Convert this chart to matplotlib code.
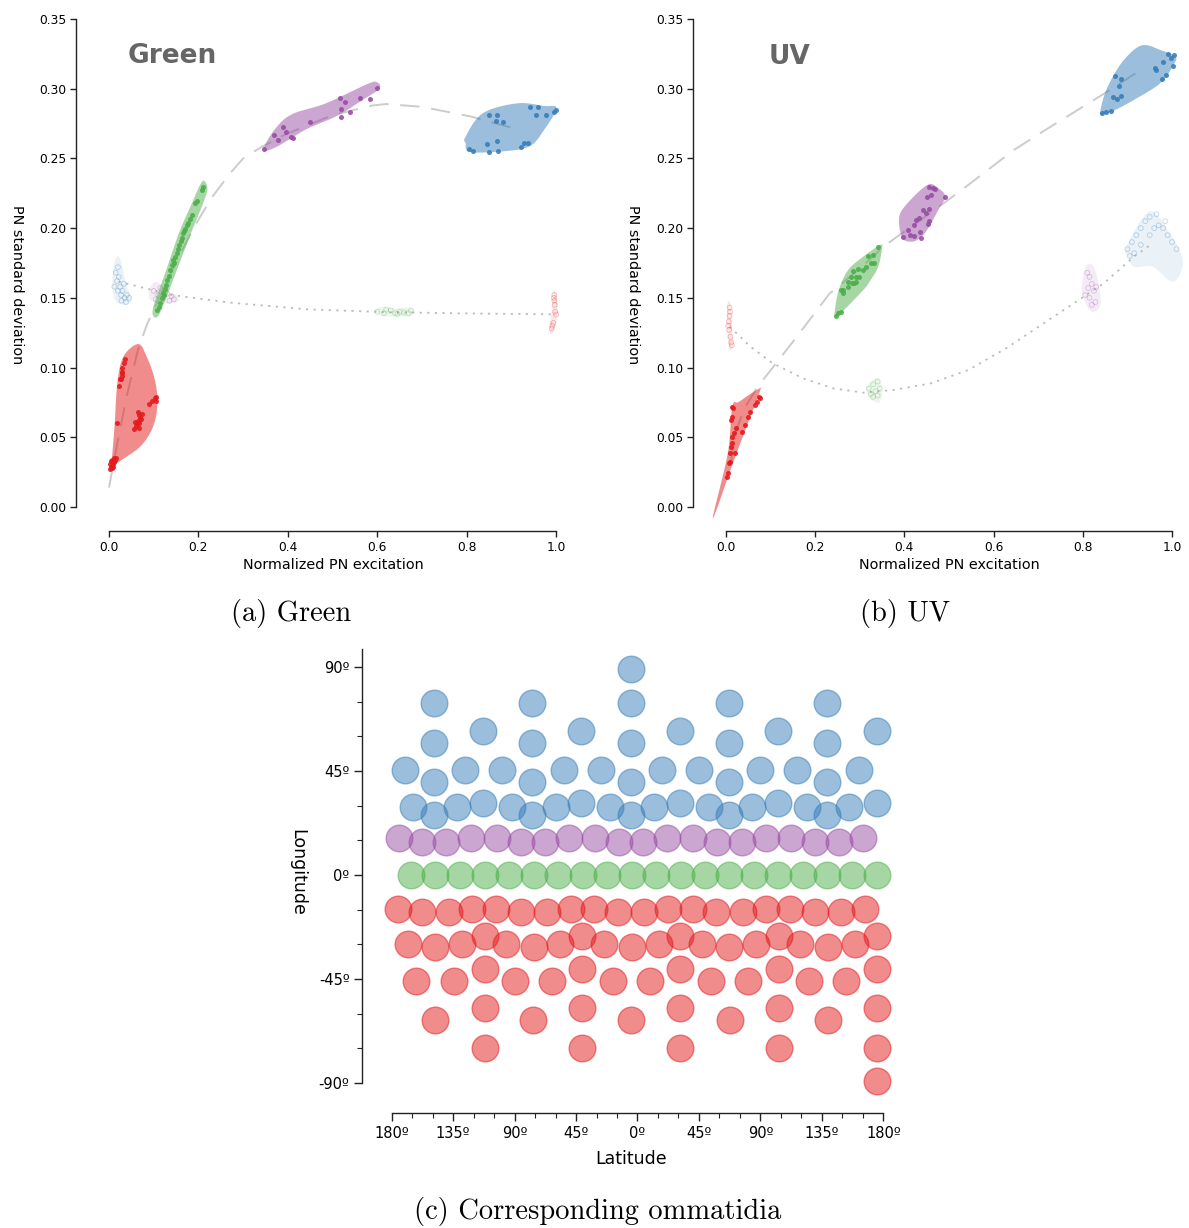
import numpy as np
import matplotlib.pyplot as plt
from matplotlib.ticker import FixedLocator, FuncFormatter

# Set1 colours
RED, GREEN, PURPLE, BLUE = '#e41a1c', '#4daf4a', '#984ea3', '#377eb8'

# ---------------- panel (a): Green stimulus ----------------
g_curve_x = [0.0, 0.02, 0.04, 0.065, 0.085, 0.12, 0.16, 0.20, 0.23, 0.27, 0.30, 0.34,
             0.40, 0.50, 0.59, 0.62, 0.70, 0.81, 0.90]
g_curve_y = [0.014, 0.048, 0.080, 0.113, 0.131, 0.155, 0.182, 0.206, 0.222, 0.239, 0.250,
             0.258, 0.268, 0.281, 0.288, 0.289, 0.287, 0.280, 0.272]
g_dot_x = [0.022, 0.142, 0.27, 0.442, 0.613, 0.785, 0.99]
g_dot_y = [0.1616, 0.152, 0.1466, 0.1418, 0.1398, 0.1389, 0.1382]

g_red_hull_x = [0.0655, 0.0843, 0.1007, 0.108, 0.1051, 0.0917, 0.0694, 0.0396, 0.0172,
                0.0007, 0.006, 0.0128, 0.0186, 0.032]
g_red_hull_y = [0.1169, 0.1078, 0.0935, 0.0791, 0.0648, 0.0529, 0.0432, 0.0361, 0.0313,
                0.0265, 0.0337, 0.060, 0.0887, 0.1078]
g_red_x = [0.002, 0.004, 0.006, 0.003, 0.008, 0.010, 0.012, 0.014, 0.016, 0.005, 0.009, 0.012,
           0.007, 0.036, 0.033, 0.030, 0.029, 0.028, 0.027, 0.025, 0.022, 0.030, 0.0177,
           0.056, 0.060, 0.062, 0.065, 0.068, 0.070, 0.064, 0.067, 0.072, 0.058, 0.066, 0.074,
           0.089, 0.097, 0.103, 0.106, 0.105]
g_red_y = [0.027, 0.029, 0.028, 0.031, 0.031, 0.033, 0.032, 0.034, 0.035, 0.033, 0.029, 0.035,
           0.034, 0.106, 0.103, 0.100, 0.097, 0.094, 0.092, 0.0915, 0.0868, 0.096, 0.0605,
           0.0557, 0.058, 0.060, 0.062, 0.060, 0.064, 0.0684, 0.066, 0.063, 0.061, 0.057, 0.067,
           0.0739, 0.076, 0.078, 0.0791, 0.076]

g_green_hull_x = [0.098, 0.127, 0.157, 0.187, 0.202, 0.212, 0.220, 0.213, 0.183, 0.153, 0.123, 0.107]
g_green_hull_y = [0.142, 0.169, 0.197, 0.219, 0.230, 0.234, 0.229, 0.220, 0.196, 0.171, 0.146, 0.136]
g_green_x = [0.108, 0.111, 0.114, 0.118, 0.121, 0.125, 0.128, 0.130, 0.134, 0.136, 0.140, 0.144,
             0.148, 0.151, 0.154, 0.157, 0.160, 0.163, 0.166, 0.170, 0.174, 0.177, 0.181, 0.185,
             0.192, 0.196, 0.207, 0.211, 0.124, 0.146, 0.168]
g_green_y = [0.1413, 0.1437, 0.146, 0.1496, 0.1532, 0.1567, 0.1592, 0.1628, 0.1657, 0.170,
             0.1736, 0.1772, 0.1791, 0.182, 0.1848, 0.1879, 0.191, 0.1927, 0.1963, 0.1991,
             0.2022, 0.2039, 0.2063, 0.2094, 0.2178, 0.2196, 0.2273, 0.2293, 0.152, 0.175, 0.198]

g_purple_hull_x = [0.346, 0.373, 0.442, 0.510, 0.570, 0.605, 0.600, 0.579, 0.485, 0.408, 0.370]
g_purple_hull_y = [0.2565, 0.2580, 0.2710, 0.2805, 0.2925, 0.3000, 0.3045, 0.3035, 0.2895,
                   0.2815, 0.2705]
g_purple_x = [0.346, 0.369, 0.378, 0.390, 0.395, 0.408, 0.412, 0.450, 0.517, 0.528, 0.519,
              0.519, 0.539, 0.562, 0.583, 0.600]
g_purple_y = [0.2568, 0.2668, 0.2632, 0.2728, 0.2692, 0.2656, 0.2644, 0.2763, 0.2931, 0.2907,
              0.2852, 0.2799, 0.2835, 0.2931, 0.2924, 0.3003]

g_blue_hull_x = [0.7975, 0.836, 0.913, 0.973, 1.0007, 0.973, 0.939, 0.870, 0.806, 0.7975]
g_blue_hull_y = [0.2656, 0.2824, 0.2895, 0.2876, 0.286, 0.2704, 0.2584, 0.2548, 0.2548, 0.2608]
g_blue_x = [0.806, 0.815, 0.849, 0.870, 0.845, 0.868, 0.922, 0.929, 0.937, 0.849, 0.868, 0.866,
            0.881, 0.942, 0.960, 0.954, 0.978, 0.995, 0.999]
g_blue_y = [0.2565, 0.2555, 0.2548, 0.2555, 0.2603, 0.2627, 0.258, 0.2608, 0.2608, 0.2811,
            0.2811, 0.277, 0.2763, 0.2866, 0.2866, 0.2811, 0.2811, 0.2835, 0.2847]

# faint clusters (other stimulus)
g_fblue_hull_x = [0.008, 0.012, 0.020, 0.028, 0.038, 0.050, 0.045, 0.030, 0.015, 0.008]
g_fblue_hull_y = [0.165, 0.175, 0.180, 0.175, 0.160, 0.150, 0.146, 0.145, 0.148, 0.155]
g_fblue_x = [0.015, 0.020, 0.018, 0.025, 0.030, 0.035, 0.040, 0.028, 0.012, 0.022, 0.033,
             0.045, 0.038, 0.020, 0.027]
g_fblue_y = [0.168, 0.172, 0.162, 0.158, 0.155, 0.150, 0.152, 0.148, 0.158, 0.165, 0.160,
             0.150, 0.147, 0.155, 0.152]
g_fpurple_hull_x = [0.090, 0.100, 0.115, 0.130, 0.150, 0.155, 0.140, 0.120, 0.100, 0.090]
g_fpurple_hull_y = [0.155, 0.161, 0.160, 0.155, 0.152, 0.148, 0.146, 0.146, 0.147, 0.150]
g_fpurple_x = [0.100, 0.110, 0.120, 0.130, 0.140, 0.145, 0.105, 0.125, 0.135, 0.115]
g_fpurple_y = [0.155, 0.152, 0.150, 0.153, 0.151, 0.149, 0.149, 0.156, 0.148, 0.157]
g_fgreen_hull_x = [0.595, 0.610, 0.640, 0.670, 0.683, 0.675, 0.640, 0.610]
g_fgreen_hull_y = [0.141, 0.1435, 0.1425, 0.143, 0.141, 0.137, 0.1365, 0.137]
g_fgreen_x = [0.600, 0.615, 0.630, 0.640, 0.650, 0.660, 0.675, 0.620, 0.645, 0.670]
g_fgreen_y = [0.140, 0.139, 0.141, 0.139, 0.140, 0.1395, 0.141, 0.1415, 0.1385, 0.139]
g_fred_hull_x = [0.985, 0.990, 0.995, 1.000, 1.003, 0.998, 0.990]
g_fred_hull_y = [0.128, 0.140, 0.155, 0.152, 0.140, 0.130, 0.124]
g_fred_x = [0.995, 0.996, 0.997, 0.998, 1.000, 0.990, 0.992, 0.994, 0.996]
g_fred_y = [0.150, 0.148, 0.145, 0.140, 0.138, 0.128, 0.130, 0.132, 0.152]

# ---------------- panel (b): UV stimulus ----------------
uv_curve_x = [0.01, 0.02, 0.04, 0.07, 0.10, 0.156, 0.232, 0.30, 0.358, 0.45, 0.527,
              0.645, 0.729, 0.805, 0.843, 0.923]
uv_curve_y = [0.030, 0.052, 0.070, 0.086, 0.098, 0.121, 0.153, 0.171, 0.188, 0.209,
              0.227, 0.256, 0.273, 0.288, 0.2955, 0.312]
uv_dot_x = [0.0083, 0.0547, 0.1052, 0.1726, 0.2401, 0.3076, 0.3749, 0.4592, 0.5435, 0.6278,
            0.7121, 0.7965, 0.847, 0.9143, 0.9565]
uv_dot_y = [0.1293, 0.115, 0.103, 0.0923, 0.0851, 0.082, 0.0839, 0.0887, 0.0983, 0.1138,
            0.1317, 0.1497, 0.1604, 0.1795, 0.1891]

uv_red_hull_x = [-0.0296, 0.004, 0.0141, 0.0294, 0.0715, 0.0758, 0.046, 0.0126]
uv_red_hull_y = [-0.0081, 0.0385, 0.0719, 0.0755, 0.0844, 0.0827, 0.0576, 0.0289]
uv_red_x = [0.0025, 0.004, 0.0058, 0.0083, 0.0108, 0.0126, 0.0141, 0.0168, 0.0108, 0.0126,
            0.0141, 0.015, 0.0226, 0.036, 0.0419, 0.0504, 0.0529, 0.0648, 0.0697, 0.0731,
            0.0758, 0.0193, 0.0083]
uv_red_y = [0.0217, 0.0242, 0.0313, 0.0325, 0.0432, 0.0456, 0.0504, 0.0528, 0.0624, 0.0648,
            0.0719, 0.0708, 0.0564, 0.054, 0.0588, 0.0648, 0.0683, 0.0731, 0.0755, 0.0787,
            0.078, 0.0385, 0.0385]

uv_green_hull_x = [0.2444, 0.257, 0.3076, 0.3244, 0.3413, 0.3498, 0.3455, 0.3076, 0.2738,
                   0.2527, 0.2444]
uv_green_hull_y = [0.1365, 0.1389, 0.1556, 0.1628, 0.1723, 0.1855, 0.1879, 0.1795, 0.170,
                   0.1556, 0.142]
uv_green_x = [0.3413, 0.3287, 0.3177, 0.3244, 0.3327, 0.3143, 0.3076, 0.2949, 0.2838, 0.2906,
              0.2991, 0.2805, 0.2738, 0.2866, 0.257, 0.2612, 0.2469, 0.2502, 0.257, 0.2612,
              0.2738, 0.2823, 0.2906]
uv_green_y = [0.1867, 0.1807, 0.180, 0.1748, 0.1748, 0.1723, 0.170, 0.1705, 0.1695, 0.1652,
              0.1652, 0.1652, 0.1616, 0.1604, 0.1556, 0.1537, 0.137, 0.1389, 0.1401, 0.1556,
              0.158, 0.1604, 0.1616]

uv_purple_hull_x = [0.396, 0.3877, 0.4002, 0.4509, 0.476, 0.4913, 0.476, 0.4509, 0.4339, 0.4171]
uv_purple_hull_y = [0.1927, 0.2058, 0.2154, 0.2309, 0.2286, 0.2226, 0.213, 0.1987, 0.1927, 0.1903]
uv_purple_x = [0.396, 0.407, 0.413, 0.4213, 0.4381, 0.4356, 0.4213, 0.4256, 0.4323, 0.4424,
               0.4552, 0.4525, 0.4552, 0.4509, 0.4592, 0.4635, 0.4552, 0.4677, 0.4913, 0.4491]
uv_purple_y = [0.1934, 0.1987, 0.1951, 0.1944, 0.1927, 0.1975, 0.2022, 0.2058, 0.2071, 0.213,
               0.2135, 0.203, 0.2053, 0.2226, 0.2238, 0.2286, 0.2297, 0.2281, 0.2226, 0.2106]

uv_blue_hull_x = [0.8386, 0.8511, 0.8807, 0.9143, 0.9397, 0.9735, 1.0072, 1.003, 0.9735,
                  0.9143, 0.8722, 0.847]
uv_blue_hull_y = [0.2824, 0.2979, 0.3158, 0.3278, 0.3313, 0.3278, 0.323, 0.317, 0.3039,
                  0.2919, 0.2847, 0.2819]
uv_blue_x = [0.8428, 0.8511, 0.8639, 0.8765, 0.8682, 0.885, 0.8807, 0.8722, 0.885, 0.9608,
             0.9633, 0.9794, 0.9776, 0.9861, 0.9919, 0.9987, 1.0054, 1.003]
uv_blue_y = [0.2824, 0.2831, 0.284, 0.2924, 0.2938, 0.2948, 0.3019, 0.3091, 0.3067, 0.3146,
             0.3134, 0.3194, 0.3067, 0.3098, 0.3249, 0.3218, 0.3242, 0.3163]

uv_fred_hull_x = [0.003, 0.010, 0.013, 0.015, 0.008, 0.003]
uv_fred_hull_y = [0.145, 0.146, 0.130, 0.115, 0.113, 0.125]
uv_fred_x = [0.008, 0.009, 0.008, 0.006, 0.005, 0.007, 0.010, 0.012, 0.013]
uv_fred_y = [0.143, 0.140, 0.137, 0.133, 0.130, 0.127, 0.122, 0.118, 0.116]
uv_fgreen_hull_x = [0.315, 0.325, 0.340, 0.348, 0.350, 0.343, 0.330, 0.318]
uv_fgreen_hull_y = [0.085, 0.090, 0.0925, 0.088, 0.080, 0.075, 0.076, 0.080]
uv_fgreen_x = [0.320, 0.330, 0.340, 0.335, 0.325, 0.345, 0.330, 0.340]
uv_fgreen_y = [0.085, 0.088, 0.090, 0.083, 0.081, 0.085, 0.079, 0.080]
uv_fpurple_hull_x = [0.800, 0.810, 0.825, 0.835, 0.840, 0.835, 0.820, 0.808, 0.798]
uv_fpurple_hull_y = [0.165, 0.174, 0.172, 0.160, 0.148, 0.142, 0.140, 0.145, 0.155]
uv_fpurple_x = [0.810, 0.815, 0.820, 0.812, 0.825, 0.830, 0.805, 0.815, 0.828, 0.820]
uv_fpurple_y = [0.168, 0.165, 0.160, 0.157, 0.155, 0.158, 0.152, 0.150, 0.147, 0.145]
uv_fblue_hull_x = [0.8976, 0.9482, 0.9904, 1.024, 1.003, 0.9565, 0.9143, 0.9018]
uv_fblue_hull_y = [0.1867, 0.2118, 0.1987, 0.1771, 0.1616, 0.1723, 0.1723, 0.1795]
uv_fblue_x = [0.900, 0.910, 0.920, 0.930, 0.940, 0.950, 0.960, 0.970, 0.980, 0.990, 1.000,
              1.010, 0.930, 0.950, 0.905, 0.965, 0.985, 0.915]
uv_fblue_y = [0.185, 0.190, 0.195, 0.200, 0.205, 0.208, 0.200, 0.202, 0.200, 0.195, 0.190,
              0.185, 0.188, 0.195, 0.180, 0.210, 0.205, 0.182]

# ---------------- panel (c): ommatidia (lon, lat in degrees) ----------------
omm_blue_lon = [-5,
                -149, -77, -5, 67, 139,
                -113, -41, 31, 103, 175,
                -149, -77, -5, 67, 139,
                -170, -126, -99, -54, -27, 18, 45, 90, 117, 162,
                -149, -77, -5, 67, 139,
                -113, -41, 31, 103, 175,
                -164, -132, -92, -60, -20, 12, 52, 84, 124, 155,
                -149, -77, -5, 67, 139]
omm_blue_lat = [89,
                74.3, 74.3, 74.3, 74.3, 74.3,
                62.3, 62.3, 62.3, 62.3, 62.3,
                57.2, 57.2, 57.2, 57.2, 57.2,
                45.4, 45.4, 45.4, 45.4, 45.4, 45.4, 45.4, 45.4, 45.4, 45.4,
                40.4, 40.4, 40.4, 40.4, 40.4,
                31.0, 31.0, 31.0, 31.0, 31.0,
                29.6, 29.6, 29.6, 29.6, 29.6, 29.6, 29.6, 29.6, 29.6, 29.6,
                26.0, 26.0, 26.0, 26.0, 26.0]
omm_purple_lon = [-174.5, -157.8, -139.9, -121.6, -103.1, -85.5, -67.6, -50.2, -30.9, -13.4,
                  4.0, 21.9, 40.8, 58.2, 76.2, 93.8, 112.3, 129.9, 147.6, 165.3]
omm_purple_lat = [16.0, 14.4, 14.4, 16.0, 16.0, 14.4, 14.4, 16.0, 16.0, 14.4,
                  14.4, 16.0, 16.0, 14.4, 14.4, 16.0, 16.0, 14.4, 14.4, 16.0]
omm_green_lon = [-166, -148, -130, -112, -94, -76, -58, -40, -22, -4,
                 13.5, 31.5, 49.4, 67.3, 85.2, 103.2, 121.1, 139, 157, 175]
omm_green_lat = [0, 0, 0, 0, 0, 0, 0, 0, 0, 0, 0, 0, 0, 0, 0, 0, 0, 0, 0, 0]
omm_red_lon = [-175.5, -157.6, -138.1, -121, -103.4, -85.6, -66.6, -49, -31.5, -14.1,
               4.6, 22.5, 40.5, 57.8, 77.4, 94.4, 112, 129.8, 149.1, 166.4,
               -167.9, -147.9, -128.3, -112, -96.1, -75.9, -56.4, -40.5, -24.2, -4.1,
               15.5, 31.3, 47.2, 67.2, 87, 103.3, 119.3, 139.3, 159.1, 175.5,
               -161.8, -134.5, -112, -89.8, -62.5, -40.5, -17.8, 9.5, 31.3, 53.9,
               81, 103.3, 125.9, 153, 175.5,
               -147.9, -112, -76.4, -40.5, -4.6, 31.3, 67.5, 103.3, 139.3, 175.5,
               -112, -40.5, 31.3, 103.3, 175.5,
               175.5]
omm_red_lat = [-14.7, -16.1, -16.1, -14.7, -14.7, -16.1, -16.1, -14.7, -14.7, -16.1,
               -16.1, -14.7, -14.7, -16.1, -16.1, -14.7, -14.7, -16.1, -16.1, -14.7,
               -30.0, -31.3, -30.0, -26.4, -30.0, -31.3, -30.0, -26.4, -30.0, -31.3,
               -30.0, -26.4, -30.0, -31.3, -30.0, -26.4, -30.0, -31.3, -30.0, -26.4,
               -45.9, -45.9, -40.8, -45.9, -45.9, -40.8, -45.9, -45.9, -40.8, -45.9,
               -45.9, -40.8, -45.9, -45.9, -40.8,
               -62.7, -57.7, -62.7, -57.7, -62.7, -57.7, -62.7, -57.7, -62.7, -57.7,
               -74.7, -74.7, -74.7, -74.7, -74.7,
               -89.0]

W, H = 1189, 1228
fig = plt.figure(figsize=(W / 100, H / 100), dpi=100)


def px_axes(left, top, right, bottom):
    return fig.add_axes([left / W, 1 - bottom / H, (right - left) / W, (bottom - top) / H])


def smooth(xs, ys, n=12):
    # closed catmull-rom spline through the hull vertices -> soft blob outline
    p = np.column_stack([xs, ys]).astype(float)
    m = len(p)
    t = np.linspace(0, 1, n, endpoint=False)[:, None]
    out = []
    for i in range(m):
        p0, p1, p2, p3 = p[(i - 1) % m], p[i], p[(i + 1) % m], p[(i + 2) % m]
        out.append(0.5 * (2 * p1 + (-p0 + p2) * t + (2 * p0 - 5 * p1 + 4 * p2 - p3) * t ** 2
                          + (-p0 + 3 * p1 - 3 * p2 + p3) * t ** 3))
    out = np.vstack(out)
    return out[:, 0], out[:, 1]


def style_top(ax, xlim):
    ax.set_xlim(*xlim)
    ax.set_ylim(-0.0172, 0.355)
    for s in ['top', 'right']:
        ax.spines[s].set_visible(False)
    ax.spines['left'].set_bounds(0, 0.35)
    ax.spines['bottom'].set_bounds(0, 1)
    for s in ['left', 'bottom']:
        ax.spines[s].set_linewidth(1.0)
        ax.spines[s].set_color('#222222')
    ax.set_yticks(np.arange(0, 0.351, 0.05))
    ax.set_xticks(np.arange(0, 1.01, 0.2))
    ax.yaxis.set_major_formatter(FuncFormatter(lambda v, p: f'{v:.2f}'))
    ax.xaxis.set_major_formatter(FuncFormatter(lambda v, p: f'{v:.1f}'))
    ax.tick_params(direction='out', length=4, width=1, labelsize=8.8, color='#222222', pad=3)


def draw_panel(ax, main, faint, curve, dots):
    for (hx, hy), _, c in faint:
        sx, sy = smooth(hx, hy)
        ax.fill(sx, sy, color=c, alpha=0.1, lw=0, zorder=1)
    ax.plot(dots[0], dots[1], color='#bbbbbb', lw=1.3, ls=(0, (1.2, 3)), zorder=2)
    for _, (px, py), c in faint:
        ax.scatter(px, py, s=12, facecolors='none', edgecolors=c, alpha=0.3, linewidths=0.6,
                   zorder=2)
    ax.plot(curve[0], curve[1], color='#cccccc', lw=1.4, ls=(0, (10, 6)), zorder=3)
    for (hx, hy), _, c in main:
        sx, sy = smooth(hx, hy)
        ax.fill(sx, sy, color=c, alpha=0.5, lw=0, zorder=4)
    for _, (px, py), c in main:
        ax.scatter(px, py, s=13, color=c, alpha=0.9, linewidths=0, zorder=5)


# ----- (a) Green -----
ax_a = px_axes(76, 12, 574, 531)
style_top(ax_a, (-0.0738, 1.04))
draw_panel(ax_a,
           [((g_red_hull_x, g_red_hull_y), (g_red_x, g_red_y), RED),
            ((g_green_hull_x, g_green_hull_y), (g_green_x, g_green_y), GREEN),
            ((g_purple_hull_x, g_purple_hull_y), (g_purple_x, g_purple_y), PURPLE),
            ((g_blue_hull_x, g_blue_hull_y), (g_blue_x, g_blue_y), BLUE)],
           [((g_fblue_hull_x, g_fblue_hull_y), (g_fblue_x, g_fblue_y), BLUE),
            ((g_fpurple_hull_x, g_fpurple_hull_y), (g_fpurple_x, g_fpurple_y), PURPLE),
            ((g_fgreen_hull_x, g_fgreen_hull_y), (g_fgreen_x, g_fgreen_y), GREEN),
            ((g_fred_hull_x, g_fred_hull_y), (g_fred_x, g_fred_y), RED)],
           (g_curve_x, g_curve_y), (g_dot_x, g_dot_y))
ax_a.text(0.0425, 0.3235, 'Green', ha='left', va='center', fontsize=19,
          fontweight='bold', color='#666666')

# ----- (b) UV -----
ax_b = px_axes(693, 12, 1189, 531)
style_top(ax_b, (-0.074, 1.038))
draw_panel(ax_b,
           [((uv_red_hull_x, uv_red_hull_y), (uv_red_x, uv_red_y), RED),
            ((uv_green_hull_x, uv_green_hull_y), (uv_green_x, uv_green_y), GREEN),
            ((uv_purple_hull_x, uv_purple_hull_y), (uv_purple_x, uv_purple_y), PURPLE),
            ((uv_blue_hull_x, uv_blue_hull_y), (uv_blue_x, uv_blue_y), BLUE)],
           [((uv_fred_hull_x, uv_fred_hull_y), (uv_fred_x, uv_fred_y), RED),
            ((uv_fgreen_hull_x, uv_fgreen_hull_y), (uv_fgreen_x, uv_fgreen_y), GREEN),
            ((uv_fpurple_hull_x, uv_fpurple_hull_y), (uv_fpurple_x, uv_fpurple_y), PURPLE),
            ((uv_fblue_hull_x, uv_fblue_hull_y), (uv_fblue_x, uv_fblue_y), BLUE)],
           (uv_curve_x, uv_curve_y), (uv_dot_x, uv_dot_y))
ax_b.text(0.0964, 0.3227, 'UV', ha='left', va='center', fontsize=19,
          fontweight='bold', color='#666666')

for cx in (17, 633):
    fig.text(cx / W, 1 - 285 / H, 'PN standard deviation', rotation=270,
             ha='center', va='center', fontsize=10.4)
for cx in (333, 949):
    fig.text(cx / W, 1 - 565 / H, 'Normalized PN excitation', ha='center', va='center',
             fontsize=10.4)

# ----- (c) ommatidia -----
ax_c = px_axes(362, 649, 900, 1113)
ax_c.set_xlim(-201.7, 192.2)
ax_c.set_ylim(-103, 97.8)
for lon, lat, c in [(omm_blue_lon, omm_blue_lat, BLUE),
                    (omm_purple_lon, omm_purple_lat, PURPLE),
                    (omm_green_lon, omm_green_lat, GREEN),
                    (omm_red_lon, omm_red_lat, RED)]:
    ax_c.scatter(lon, lat, s=370, color=c, alpha=0.5, linewidths=1.0, zorder=3)
for s in ['top', 'right']:
    ax_c.spines[s].set_visible(False)
ax_c.spines['bottom'].set_bounds(-180, 180)
ax_c.spines['left'].set_bounds(-90, 97.8)
for s in ['left', 'bottom']:
    ax_c.spines[s].set_linewidth(1.0)
    ax_c.spines[s].set_color('#222222')
ax_c.xaxis.set_major_locator(FixedLocator(np.arange(-180, 181, 45)))
ax_c.xaxis.set_minor_locator(FixedLocator(np.arange(-180, 181, 15)))
ax_c.yaxis.set_major_locator(FixedLocator(np.arange(-90, 91, 45)))
ax_c.yaxis.set_minor_locator(FixedLocator(np.arange(-90, 91, 15)))
ax_c.xaxis.set_major_formatter(FuncFormatter(lambda v, p: f'{abs(int(round(v)))}º'))
ax_c.yaxis.set_major_formatter(FuncFormatter(lambda v, p: f'{int(round(v))}º'))
ax_c.tick_params(which='major', direction='out', length=6, width=1, labelsize=10.5,
                 color='#222222', pad=3)
ax_c.tick_params(which='minor', direction='out', length=3.5, width=0.8, color='#222222')
fig.text(297 / W, 1 - 872 / H, 'Longitude', rotation=270, ha='center', va='center',
         fontsize=12.5)
fig.text(631 / W, 1 - 1159 / H, 'Latitude', ha='center', va='center', fontsize=12.5)

# captions
for cx, cy, txt in [(291, 613, '(a) Green'), (905, 613, '(b) UV'),
                    (598, 1212, '(c) Corresponding ommatidia')]:
    fig.text(cx / W, 1 - cy / H, txt, ha='center', va='center', fontsize=20.5,
             family='cmr10')

fig.savefig('out.png', dpi=100)
